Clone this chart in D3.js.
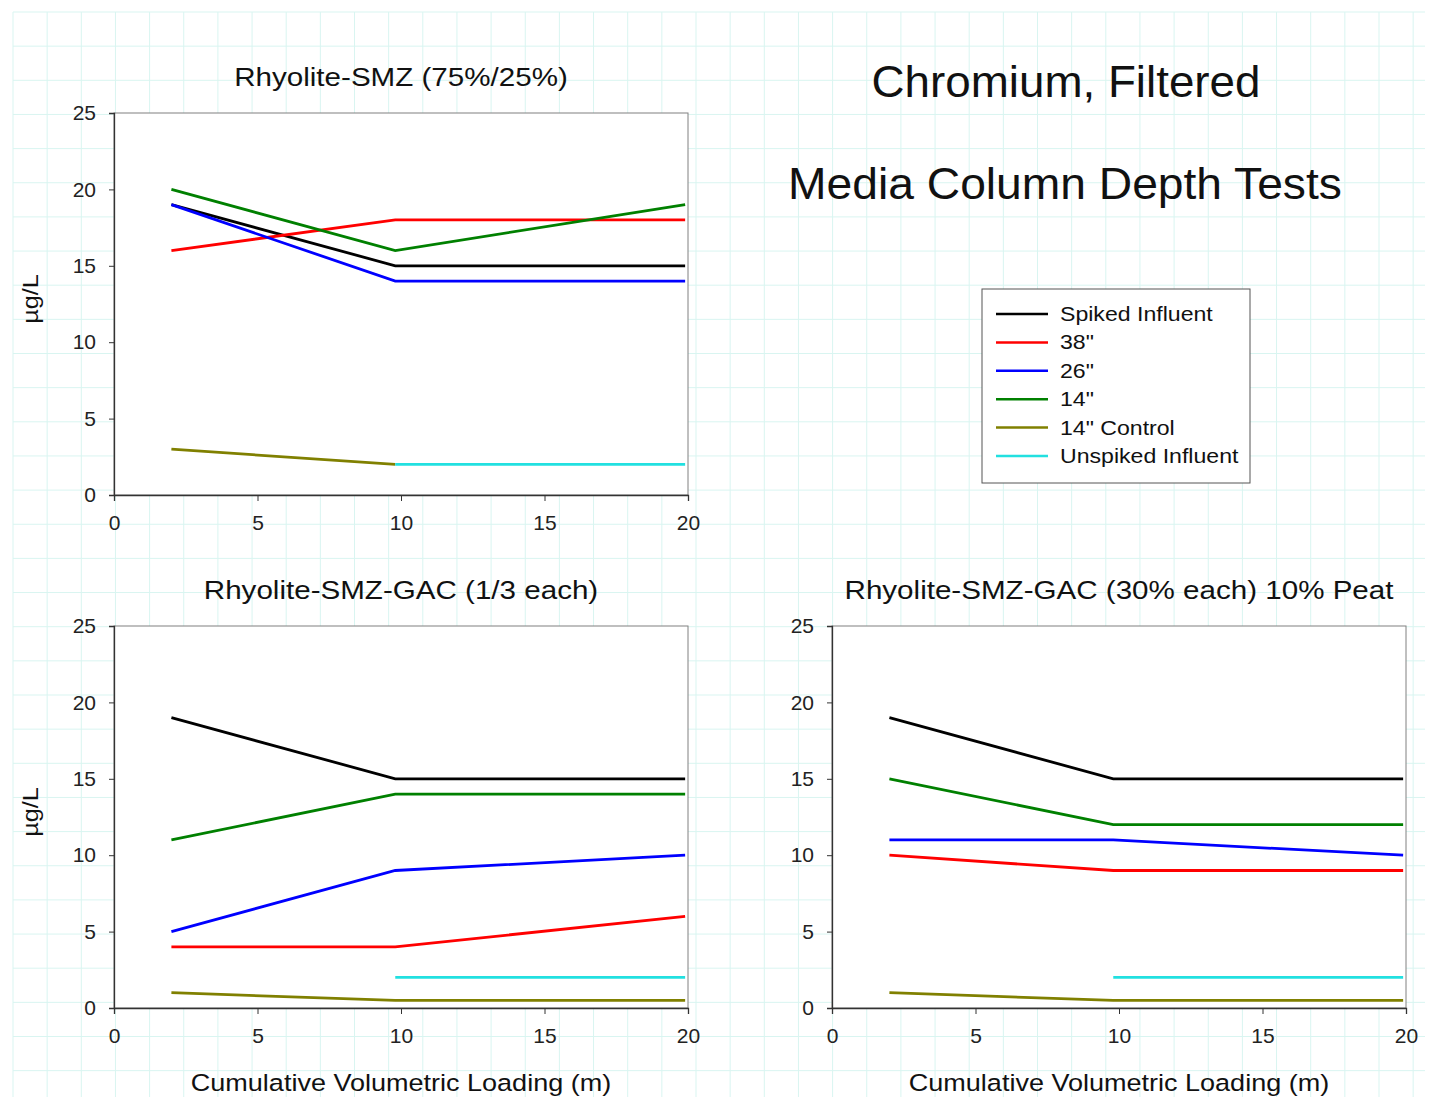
<!DOCTYPE html>
<html lang="en">
  <head>
    <meta charset="utf-8">
    <title>Chromium, Filtered - Media Column Depth Tests</title>
    <style>
        body { margin: 0; background: #ffffff; }
        svg { display: block; font-family: "Liberation Sans", Arial, sans-serif; }
    </style>
    <script src="https://d3js.org/d3.v7.min.js"></script>
  </head>
  <body>
    <script>
    // data
    const loading = [2, 9.8, 19.9];

    const seriesNames = ["Spiked Influent", "38\"", "26\"", "14\"", "14\" Control", "Unspiked Influent"];
    const seriesColors = ["#000000", "#ff0000", "#0000ff", "#008000", "#808000", "#22e0e0"];

    // panel 1: Rhyolite-SMZ (75%/25%)
    const smzSpiked    = [19, 15, 15];
    const smz38        = [16, 18, 18];
    const smz26        = [19, 14, 14];
    const smz14        = [20, 16, 19];
    const smzControl   = [3, 2, null];
    const smzUnspiked  = [null, 2, 2];

    // panel 2: Rhyolite-SMZ-GAC (1/3 each)
    const gacSpiked    = [19, 15, 15];
    const gac38        = [4, 4, 6];
    const gac26        = [5, 9, 10];
    const gac14        = [11, 14, 14];
    const gacControl   = [1, 0.5, 0.5];
    const gacUnspiked  = [null, 2, 2];

    // panel 3: Rhyolite-SMZ-GAC (30% each) 10% Peat
    const peatSpiked   = [19, 15, 15];
    const peat38       = [10, 9, 9];
    const peat26       = [11, 11, 10];
    const peat14       = [15, 12, 12];
    const peatControl  = [1, 0.5, 0.5];
    const peatUnspiked = [null, 2, 2];

    const xTicks = [0, 5, 10, 15, 20];
    const yTicks = [0, 5, 10, 15, 20, 25];

    const W = 1431, H = 1099;

    const svg = d3.select("body")
        .append("svg")
        .attr("width", W)
        .attr("height", H);

    // the original's lettering is a little wider than Liberation Sans
    function label(parent, x, y, txt, size, sx, anchor) {
        return parent.append("text")
            .attr("transform", `translate(${x},${y}) scale(${sx},1)`)
            .attr("text-anchor", anchor || "middle")
            .style("font-size", size + "px")
            .attr("fill", "#111")
            .text(txt);
    }

    // graph paper background
    const grid = svg.append("g").attr("stroke", "#d9f5f1").attr("stroke-width", 1);
    for (let gx = 13; gx <= 1425; gx += 34.15) {
        grid.append("line").attr("x1", gx).attr("x2", gx).attr("y1", 12).attr("y2", 1097);
    }
    for (let gy = 12; gy <= 1097; gy += 34.15) {
        grid.append("line").attr("x1", 13).attr("x2", 1425).attr("y1", gy).attr("y2", gy);
    }

    const panels = [
        { title: "Rhyolite-SMZ (75%/25%)", left: 114, top: 113, ylabel: true, xlabel: false,
          series: [smzSpiked, smz38, smz26, smz14, smzControl, smzUnspiked] },
        { title: "Rhyolite-SMZ-GAC (1/3 each)", left: 114, top: 626, ylabel: true, xlabel: true,
          series: [gacSpiked, gac38, gac26, gac14, gacControl, gacUnspiked] },
        { title: "Rhyolite-SMZ-GAC (30% each) 10% Peat", left: 832, top: 626, ylabel: false, xlabel: true,
          series: [peatSpiked, peat38, peat26, peat14, peatControl, peatUnspiked] }
    ];

    const pw = 574, ph = 382;

    panels.forEach(p => {
        const g = svg.append("g").attr("transform", `translate(${p.left},${p.top})`);

        const x = d3.scaleLinear().domain([0, 20]).range([0, pw]);
        const y = d3.scaleLinear().domain([0, 25]).range([ph, 0]);

        g.append("rect")
            .attr("width", pw).attr("height", ph)
            .attr("fill", "#ffffff")
            .attr("stroke", "#808080").attr("stroke-width", 1);

        const xAxis = g.append("g")
            .attr("transform", `translate(0,${ph})`)
            .call(d3.axisBottom(x).tickValues(xTicks).tickSize(6).tickPadding(14));
        xAxis.selectAll("text").style("font-size", "21px").attr("fill", "#222");

        const yAxis = g.append("g")
            .call(d3.axisLeft(y).tickValues(yTicks).tickSize(5).tickPadding(13));
        yAxis.selectAll("text").style("font-size", "21px").attr("fill", "#222");

        [xAxis, yAxis].forEach(a => {
            a.select(".domain").attr("stroke", "#333").attr("stroke-width", 1.3);
            a.selectAll(".tick line").attr("stroke", "#333");
        });

        const line = d3.line()
            .defined(d => d[1] != null)
            .x(d => x(d[0]))
            .y(d => y(d[1]));

        p.series.forEach((vals, i) => {
            g.append("path")
                .datum(loading.map((v, j) => [v, vals[j]]))
                .attr("fill", "none")
                .attr("stroke", seriesColors[i])
                .attr("stroke-width", 2.8)
                .attr("d", line);
        });

        label(g, pw / 2, -27, p.title, 25.5, 1.16);

        if (p.ylabel) {
            g.append("text")
                .attr("transform", `translate(-76,${ph / 2 - 5}) rotate(-90) scale(1.15,1)`)
                .attr("text-anchor", "middle")
                .style("font-size", "22px")
                .attr("fill", "#111")
                .text("µg/L");
        }

        if (p.xlabel) {
            label(g, pw / 2, ph + 83, "Cumulative Volumetric Loading (m)", 23.5, 1.15);
        }
    });

    // headline
    label(svg, 1066, 97, "Chromium, Filtered", 44, 1.04);
    label(svg, 1065, 199, "Media Column Depth Tests", 44, 1.05);

    // legend
    const legend = svg.append("g").attr("transform", "translate(982,289)");
    legend.append("rect")
        .attr("width", 268).attr("height", 194)
        .attr("fill", "#ffffff")
        .attr("stroke", "#555").attr("stroke-width", 1);

    seriesNames.forEach((name, i) => {
        const row = legend.append("g").attr("transform", `translate(0,${25 + i * 28.4})`);
        row.append("line")
            .attr("x1", 14).attr("x2", 66)
            .attr("stroke", seriesColors[i]).attr("stroke-width", 2.5);
        label(row, 78, 7, name, 21, 1.1, "start");
    });
    </script>
  </body>
</html>
